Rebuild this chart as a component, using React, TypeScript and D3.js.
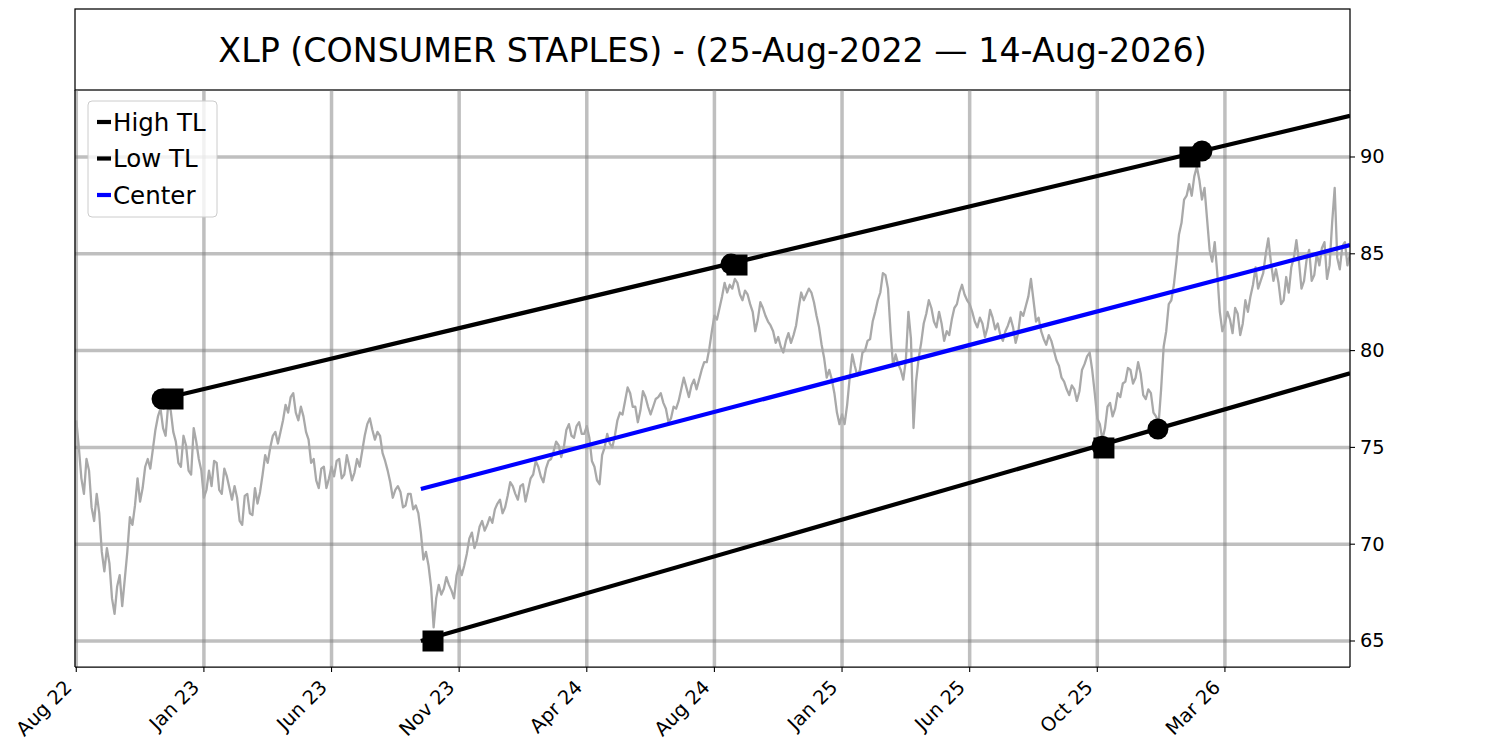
import * as d3 from "d3";

const W = 1500;
const H = 750;

const title = "XLP (CONSUMER STAPLES) - (25-Aug-2022 — 14-Aug-2026)";

// closing prices read every 4 trading days starting 25-Aug-2022 (bar 0, 4, 8, ...)
const priceStep = 4;
const priceValues = [
  76.4, 73.4, 74.4, 71.9, 72.6, 69.6, 69.8, 67.2, 67.8, 66.8,
  69.6, 71.0, 73.4, 72.9, 74.4, 74.9, 76.6, 76.0, 77.2, 75.8,
  74.2, 75.6, 73.8, 76.0, 74.4, 72.4, 73.8, 74.3, 72.8, 73.9,
  72.9, 73.0, 71.2, 72.5, 71.6, 72.9, 72.7, 74.6, 75.0, 75.8,
  75.8, 77.2, 77.6, 76.8, 77.1, 75.8, 74.2, 73.3, 73.9, 72.9,
  74.0, 74.3, 73.4, 74.6, 73.3, 74.4, 74.8, 76.2, 75.9, 75.8,
  74.7, 73.8, 72.4, 73.0, 71.9, 72.6, 71.8, 71.6, 69.2, 68.9,
  65.7, 67.9, 67.7, 67.9, 67.2, 68.9, 68.9, 70.3, 69.8, 70.9,
  70.7, 71.4, 71.8, 72.3, 71.9, 73.2, 72.6, 73.0, 72.2, 73.4,
  74.3, 73.5, 73.9, 74.4, 75.3, 74.5, 75.9, 75.6, 76.1, 75.7,
  76.1, 74.3, 73.3, 74.6, 75.7, 75.0, 76.4, 76.7, 78.1, 77.1,
  76.3, 77.9, 77.1, 77.1, 77.6, 77.3, 76.3, 77.1, 77.4, 78.6,
  77.6, 78.5, 78.5, 79.4, 80.1, 81.8, 82.2, 83.5, 83.4, 83.7,
  82.9, 83.1, 82.4, 81.0, 82.5, 81.8, 81.3, 80.4, 80.2, 80.5,
  80.4, 81.3, 83.0, 82.9, 83.0, 81.8, 80.3, 78.6, 78.5, 76.8,
  76.7, 77.2, 79.8, 78.7, 79.9, 80.5, 81.5, 82.6, 84.0, 83.2,
  79.2, 79.3, 78.5, 82.0, 76.0, 79.6, 81.4, 82.6, 81.5, 82.0,
  80.5, 80.8, 82.2, 83.0, 82.9, 82.4, 81.5, 81.7, 80.7, 82.1,
  81.1, 80.8, 81.0, 81.7, 80.4, 82.0, 82.3, 83.7, 81.5, 81.0,
  80.3, 80.5, 79.5, 78.6, 78.0, 78.2, 77.4, 79.0, 79.7, 79.0,
  76.5, 75.4, 77.1, 76.6, 77.8, 78.3, 79.1, 78.3, 79.4, 77.7,
  78.0, 76.8, 76.2, 80.2, 82.4, 83.4, 86.0, 87.8, 88.6, 89.0,
  88.8, 88.4, 85.2, 85.6, 82.0, 81.4, 81.6, 82.2, 80.8, 82.6,
  82.8, 84.3, 83.6, 85.0, 84.6, 84.2, 82.4, 83.8, 84.3, 85.7,
  83.2, 84.7, 83.6, 85.0, 85.3, 83.7, 86.6, 84.8, 85.4, 84.4,
];

// in-between readings (bar 2, 6, 10, ...) picked off the jagged envelope
const priceMid = [
  75.0, 72.6, 73.8, 71.2, 71.6, 68.6, 69.0, 66.4, 68.4, 68.2,
  71.4, 72.0, 72.2, 74.0, 73.9, 75.9, 77.0, 75.6, 76.9, 75.3,
  74.0, 75.1, 73.6, 75.3, 73.8, 72.8, 73.0, 74.2, 72.6, 73.5,
  72.3, 72.4, 71.0, 72.6, 71.5, 72.1, 73.6, 74.2, 75.6, 75.2,
  76.4, 76.8, 77.8, 76.4, 76.6, 75.4, 74.4, 72.9, 74.0, 73.4,
  73.5, 74.4, 73.6, 74.0, 73.7, 74.0, 75.6, 76.5, 75.4, 75.6,
  74.3, 73.2, 72.8, 72.7, 72.0, 72.6, 72.0, 70.6, 69.6, 67.8,
  67.2, 67.4, 68.3, 67.6, 68.4, 68.4, 69.5, 70.6, 70.2, 71.2,
  71.0, 71.1, 72.1, 71.6, 72.5, 73.0, 72.3, 73.1, 72.8, 73.6,
  74.0, 73.2, 74.3, 74.8, 75.1, 75.0, 76.2, 75.5, 76.3, 75.7,
  75.5, 74.0, 73.1, 75.0, 75.2, 75.6, 76.8, 77.4, 77.8, 77.1,
  76.9, 77.6, 76.7, 77.5, 77.8, 77.0, 76.5, 77.0, 78.0, 78.1,
  78.2, 78.0, 79.0, 79.4, 81.0, 81.6, 82.8, 83.0, 83.2, 83.5,
  82.6, 82.9, 82.0, 81.6, 82.2, 81.5, 81.0, 80.7, 79.9, 80.9,
  80.8, 82.2, 82.6, 83.2, 82.5, 81.2, 79.6, 79.0, 77.8, 76.2,
  76.2, 78.6, 79.2, 79.0, 80.0, 80.6, 82.0, 83.0, 83.9, 81.0,
  79.8, 79.0, 79.5, 80.6, 78.4, 80.4, 81.9, 82.2, 81.2, 81.4,
  81.0, 81.6, 82.4, 83.4, 82.6, 82.0, 81.2, 81.4, 81.2, 81.7,
  81.4, 80.5, 81.3, 81.2, 80.9, 81.8, 82.8, 82.6, 81.7, 80.6,
  80.8, 80.0, 79.2, 78.4, 77.7, 78.0, 77.9, 79.3, 79.9, 77.8,
  76.2, 76.0, 77.3, 77.0, 77.6, 78.4, 79.0, 78.6, 78.8, 77.5,
  77.8, 76.6, 78.0, 81.0, 82.6, 84.6, 86.6, 88.0, 88.0, 89.5,
  87.8, 86.8, 84.6, 84.0, 81.0, 82.0, 80.9, 81.9, 81.4, 82.0,
  83.4, 83.2, 84.0, 85.8, 83.6, 83.5, 82.6, 83.0, 84.8, 84.6,
  83.6, 85.2, 83.9, 84.4, 85.6, 84.4, 88.4, 84.2, 85.6,
];
const lastBar = 998;
const lastPrice = 85.0;

const xTickIdx = [0, 100, 200, 300, 400, 500, 600, 700, 800, 900];
const xTickLabels = ["Aug 22", "Jan 23", "Jun 23", "Nov 23", "Apr 24", "Aug 24", "Jan 25", "Jun 25", "Oct 25", "Mar 26"];
const yTicks = [65, 70, 75, 80, 85, 90];

// trend lines as [bar index, price] end points
const highTL: [number, number][] = [[67.2, 77.5], [998, 92.13]];
const lowTL: [number, number][] = [[270, 65.0], [998, 78.83]];
const centerTL: [number, number][] = [[270, 72.85], [998, 85.45]];

// pivot markers
const circlePts: [number, number][] = [[67.2, 77.5], [513.0, 84.47], [882.0, 90.31], [803.7, 75.06], [847.5, 75.95]];
const squarePts: [number, number][] = [[75.8, 77.5], [517.7, 84.42], [872.6, 90.0], [279.5, 65.0], [805.2, 74.97]];

const legendItems = [
  { label: "High TL", color: "black" },
  { label: "Low TL", color: "black" },
  { label: "Center", color: "blue" },
];

const m = { l: 75, r: 1350, t: 90, b: 667 };
const font = "'DejaVu Sans', sans-serif";

export default function App() {
  const x = d3.scaleLinear().domain([-1, 998]).range([m.l, m.r]);
  const y = d3.scaleLinear().domain([63.657, 93.46]).range([m.b, m.t]);

  const line = d3
    .line<[number, number]>()
    .x((d) => x(d[0]))
    .y((d) => y(d[1]));

  const price: [number, number][] = [];
  priceValues.forEach((v, i) => {
    price.push([i * priceStep, v]);
    if (i < priceMid.length) price.push([i * priceStep + priceStep / 2, priceMid[i]]);
  });
  price.push([lastBar, lastPrice]);

  const sq = 21;
  const gridColor = "#808080";

  return (
    <div style={{ position: "absolute", left: 0, top: 0 }}>
      <svg width={W} height={H} style={{ display: "block", background: "white" }} fontFamily={font}>
        <defs>
          <clipPath id="plot-clip">
            <rect x={m.l} y={m.t} width={m.r - m.l} height={m.b - m.t} />
          </clipPath>
        </defs>

        {/* title box */}
        <rect x={m.l} y={9} width={m.r - m.l} height={m.t - 9} fill="white" stroke="black" strokeWidth={1.25} />
        <text x={(m.l + m.r) / 2} y={50} textAnchor="middle" dominantBaseline="central" fontSize={33.3}>
          {title}
        </text>

        {/* grid */}
        <g stroke={gridColor} strokeOpacity={0.5} strokeWidth={3.5}>
          {xTickIdx.map((t) => (
            <line key={"gx" + t} x1={x(t)} x2={x(t)} y1={m.t} y2={m.b} />
          ))}
          {yTicks.map((t) => (
            <line key={"gy" + t} x1={m.l} x2={m.r} y1={y(t)} y2={y(t)} />
          ))}
        </g>

        <g clipPath="url(#plot-clip)">
          <path d={line(price) ?? ""} fill="none" stroke="#a9a9a9" strokeWidth={2.3} strokeLinejoin="round" />
          <path d={line(highTL) ?? ""} fill="none" stroke="black" strokeWidth={4.2} />
          <path d={line(lowTL) ?? ""} fill="none" stroke="black" strokeWidth={4.2} />
          <path d={line(centerTL) ?? ""} fill="none" stroke="blue" strokeWidth={4.2} />
          {circlePts.map((p, i) => (
            <circle key={"c" + i} cx={x(p[0])} cy={y(p[1])} r={sq / 2} fill="black" />
          ))}
          {squarePts.map((p, i) => (
            <rect key={"s" + i} x={x(p[0]) - sq / 2} y={y(p[1]) - sq / 2} width={sq} height={sq} fill="black" />
          ))}
        </g>

        {/* spines */}
        <g stroke="black" strokeWidth={1.25} fill="none">
          <line x1={m.l} x2={m.l} y1={m.t} y2={m.b} />
          <line x1={m.r} x2={m.r} y1={m.t} y2={m.b} />
          <line x1={m.l} x2={m.r} y1={m.b} y2={m.b} />
        </g>

        {/* x axis */}
        {xTickIdx.map((t, i) => (
          <g key={"xt" + t}>
            <line x1={x(t)} x2={x(t)} y1={m.b} y2={m.b + 5} stroke="black" strokeWidth={1.1} />
            <text
              transform={`translate(${x(t) - 8},${m.b + 17}) rotate(-45)`}
              textAnchor="end"
              dominantBaseline="central"
              fontSize={19.4}
            >
              {xTickLabels[i]}
            </text>
          </g>
        ))}

        {/* y axis (right) */}
        {yTicks.map((t) => (
          <g key={"yt" + t}>
            <line x1={m.r} x2={m.r + 5} y1={y(t)} y2={y(t)} stroke="black" strokeWidth={1.1} />
            <text x={m.r + 10} y={y(t)} dominantBaseline="central" fontSize={19.4}>
              {t}
            </text>
          </g>
        ))}

        {/* legend */}
        <g>
          <rect x={88} y={101} width={129} height={116} rx={4} fill="white" fillOpacity={0.8} stroke="#cccccc" strokeWidth={1} />
          {legendItems.map((d, i) => {
            const cy = 122 + i * 36.5;
            return (
              <g key={d.label}>
                <line x1={97} x2={111} y1={cy} y2={cy} stroke={d.color} strokeWidth={4.2} />
                <text x={113} y={cy} dominantBaseline="central" fontSize={24.5}>
                  {d.label}
                </text>
              </g>
            );
          })}
        </g>
      </svg>
    </div>
  );
}
